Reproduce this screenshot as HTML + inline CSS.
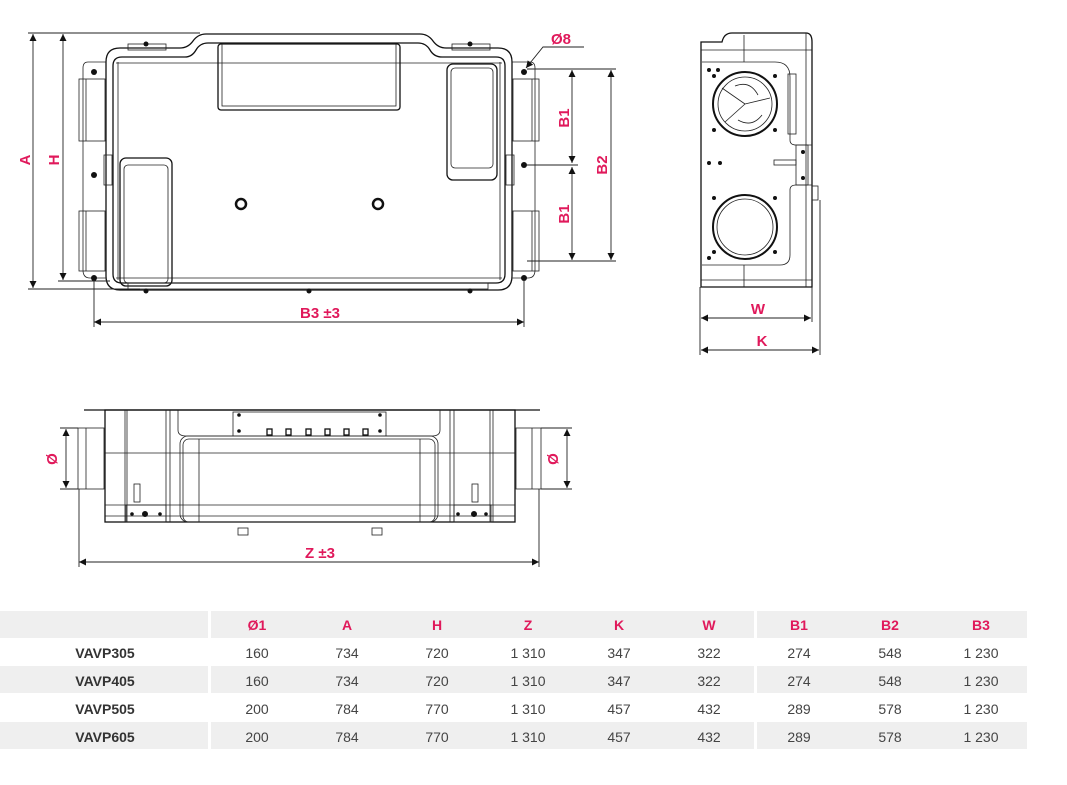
<!DOCTYPE html>
<html><head><meta charset="utf-8"><style>
body{margin:0;background:#fff;width:1067px;height:785px;overflow:hidden;font-family:"Liberation Sans",sans-serif}
svg{position:absolute;left:0;top:0}
.l{fill:none;stroke:#111;stroke-width:1.3}
.t{fill:none;stroke:#222;stroke-width:0.8}
.d{stroke:#222;stroke-width:0.9;fill:none}
.m{fill:#e0195b;font-weight:bold;font-size:15px;font-family:"Liberation Sans",sans-serif}
.h{fill:#e0195b;font-weight:bold;font-size:14px;text-anchor:middle}
.v{fill:#444;font-size:14px;text-anchor:middle}
.n{fill:#333;font-weight:bold;font-size:14px;text-anchor:middle}
</style></head><body>
<svg width="1067" height="785" viewBox="0 0 1067 785">
<defs>
<marker id="a" viewBox="0 0 10 10" refX="10" refY="5" markerWidth="10" markerHeight="7" orient="auto-start-reverse" markerUnits="userSpaceOnUse"><path d="M0,0L10,5L0,10z" fill="#111"/></marker>
</defs>
<!-- TOP VIEW -->
<path class="l" d="M106,62 Q106,48 120,48 L180,48 Q188,48 193,41 Q198,34 206,34 L420,34 Q428,34 433,41 Q438,48 446,48 L498,48 Q512,48 512,62 L512,276 Q512,290 498,290 L120,290 Q106,290 106,276Z"/>
<path class="l" d="M113,66 Q113,57 122,57 L185,57 Q192,57 196,50 Q200,43 208,43 L418,43 Q426,43 430,50 Q434,57 442,57 L496,57 Q505,57 505,66 L505,274 Q505,283 496,283 L122,283 Q113,283 113,274Z"/>
<line class="t" x1="116" y1="63" x2="502" y2="63"/>
<line class="t" x1="116" y1="278" x2="502" y2="278"/>
<line class="t" x1="118" y1="62" x2="118" y2="280"/><line class="t" x1="500" y1="62" x2="500" y2="280"/>
<rect class="l" x="218" y="44" width="182" height="66" rx="3"/>
<rect class="t" x="222" y="44" width="174" height="62"/>
<rect class="l" x="447" y="64" width="50" height="116" rx="6"/>
<rect class="t" x="451" y="68" width="42" height="100" rx="4"/>
<rect class="l" x="120" y="158" width="52" height="128" rx="6"/>
<rect class="t" x="124" y="165" width="44" height="118" rx="4"/>
<circle cx="241" cy="204" r="5" stroke="#111" stroke-width="2.5" fill="none"/>
<circle cx="378" cy="204" r="5" stroke="#111" stroke-width="2.5" fill="none"/>
<rect x="128" y="44" width="38" height="6" class="t"/><rect x="452" y="44" width="38" height="6" class="t"/>
<rect x="128" y="283" width="360" height="6" class="t"/>
<!-- left flange -->
<path class="t" d="M106,62 L88,62 Q83,62 83,68 L83,270 Q83,278 90,278 L106,278"/>
<rect class="t" x="79" y="79" width="26" height="62"/><rect class="t" x="79" y="211" width="26" height="60"/>
<line class="t" x1="86" y1="79" x2="86" y2="141"/><line class="t" x1="86" y1="211" x2="86" y2="271"/>
<path class="t" d="M512,62 L530,62 Q535,62 535,68 L535,270 Q535,278 528,278 L512,278"/>
<rect class="t" x="513" y="79" width="26" height="62"/><rect class="t" x="513" y="211" width="26" height="60"/>
<line class="t" x1="532" y1="79" x2="532" y2="141"/><line class="t" x1="532" y1="211" x2="532" y2="271"/>
<rect x="104" y="155" width="8" height="30" class="t"/><rect x="506" y="155" width="8" height="30" class="t"/>
<g fill="#111"><circle cx="94" cy="72" r="3"/><circle cx="94" cy="175" r="3"/><circle cx="94" cy="278" r="3"/><circle cx="524" cy="72" r="3"/><circle cx="524" cy="165" r="3"/><circle cx="524" cy="278" r="3"/>
<circle cx="146" cy="44" r="2.5"/><circle cx="470" cy="44" r="2.5"/><circle cx="146" cy="291" r="2.5"/><circle cx="309" cy="291" r="2.5"/><circle cx="470" cy="291" r="2.5"/></g>
<!-- dims top -->
<line class="d" x1="28" y1="33" x2="200" y2="33"/>
<line class="d" x1="28" y1="289" x2="140" y2="289"/>
<line class="d" x1="58" y1="281" x2="110" y2="281"/>
<line class="d" x1="33" y1="34" x2="33" y2="288" marker-start="url(#a)" marker-end="url(#a)"/>
<line class="d" x1="63" y1="34" x2="63" y2="280" marker-start="url(#a)" marker-end="url(#a)"/>
<text class="m" transform="translate(30,160) rotate(-90)" text-anchor="middle">A</text>
<text class="m" transform="translate(59,160) rotate(-90)" text-anchor="middle">H</text>
<line class="d" x1="94" y1="280" x2="94" y2="327"/><line class="d" x1="524" y1="280" x2="524" y2="327"/>
<line class="d" x1="94" y1="322" x2="524" y2="322" marker-start="url(#a)" marker-end="url(#a)"/>
<text class="m" x="320" y="318" text-anchor="middle">B3  ±3</text>
<line class="d" x1="527" y1="69" x2="616" y2="69"/><line class="d" x1="527" y1="165" x2="578" y2="165"/><line class="d" x1="527" y1="261" x2="616" y2="261"/>
<line class="d" x1="572" y1="70" x2="572" y2="163" marker-start="url(#a)" marker-end="url(#a)"/>
<line class="d" x1="572" y1="167" x2="572" y2="260" marker-start="url(#a)" marker-end="url(#a)"/>
<line class="d" x1="611" y1="70" x2="611" y2="260" marker-start="url(#a)" marker-end="url(#a)"/>
<text class="m" transform="translate(569,118) rotate(-90)" text-anchor="middle">B1</text>
<text class="m" transform="translate(569,214) rotate(-90)" text-anchor="middle">B1</text>
<text class="m" transform="translate(607,165) rotate(-90)" text-anchor="middle">B2</text>
<text class="m" x="551" y="44">Ø8</text>
<polyline class="d" points="584,47 543,47 526,68" marker-end="url(#a)"/>
<!-- SIDE VIEW -->
<path class="l" d="M701,42 L722,42 Q724,33 732,33 L806,33 Q812,33 812,42 L812,287 L701,287Z"/>
<path class="t" d="M702,62 L775,62 Q790,62 790,77 L790,140 Q790,145 796,145 L812,145"/>
<path class="t" d="M702,265 L780,265 Q790,265 790,255 L790,190 Q790,185 796,185 L812,185"/>
<line class="t" x1="744" y1="35" x2="744" y2="62"/><line class="t" x1="744" y1="265" x2="744" y2="287"/>
<line class="t" x1="701" y1="280" x2="812" y2="280"/><line class="t" x1="701" y1="50" x2="812" y2="50"/>
<line class="t" x1="806" y1="33" x2="806" y2="287"/>
<rect class="t" x="788" y="74" width="8" height="60"/>
<rect class="t" x="796" y="145" width="12" height="40"/>
<rect x="812" y="186" width="6" height="14" class="t"/>
<circle cx="745" cy="104" r="32" stroke="#111" stroke-width="2" fill="none"/>
<circle cx="745" cy="104" r="27" class="t"/>
<path class="t" d="M745,104 L722,88 M745,104 L725,122 M745,104 L770,98 M735,86 Q750,80 758,95 M738,120 Q752,128 762,115"/>
<circle cx="745" cy="227" r="32" stroke="#111" stroke-width="2" fill="none"/>
<circle cx="745" cy="227" r="28" class="t"/>
<g fill="#111"><circle cx="709" cy="70" r="2"/><circle cx="718" cy="70" r="2"/><circle cx="714" cy="76" r="2"/><circle cx="775" cy="76" r="2"/><circle cx="714" cy="130" r="2"/><circle cx="775" cy="130" r="2"/><circle cx="709" cy="163" r="2"/><circle cx="720" cy="163" r="2"/><circle cx="714" cy="198" r="2"/><circle cx="775" cy="198" r="2"/><circle cx="714" cy="252" r="2"/><circle cx="709" cy="258" r="2"/><circle cx="775" cy="252" r="2"/><circle cx="803" cy="152" r="2"/><circle cx="803" cy="178" r="2"/></g>
<rect x="774" y="160" width="22" height="5" class="t"/>
<line class="d" x1="700" y1="287" x2="700" y2="355"/><line class="d" x1="812" y1="287" x2="812" y2="322"/><line class="d" x1="820" y1="200" x2="820" y2="355"/>
<line class="d" x1="701" y1="318" x2="811" y2="318" marker-start="url(#a)" marker-end="url(#a)"/>
<line class="d" x1="701" y1="350" x2="819" y2="350" marker-start="url(#a)" marker-end="url(#a)"/>
<text class="m" x="758" y="314" text-anchor="middle">W</text>
<text class="m" x="762" y="346" text-anchor="middle">K</text>
<!-- BOTTOM VIEW -->
<line class="l" x1="84" y1="410" x2="540" y2="410"/>
<rect class="l" x="105" y="410" width="410" height="112"/>
<g class="t">
<line x1="125" y1="410" x2="125" y2="522"/><line x1="127" y1="410" x2="127" y2="522"/>
<line x1="166" y1="410" x2="166" y2="522"/><line x1="170" y1="410" x2="170" y2="522"/>
<line x1="450" y1="410" x2="450" y2="522"/><line x1="454" y1="410" x2="454" y2="522"/>
<line x1="490" y1="410" x2="490" y2="522"/><line x1="493" y1="410" x2="493" y2="522"/>
<line x1="105" y1="453" x2="515" y2="453"/>
<line x1="105" y1="505" x2="515" y2="505"/>
<line x1="105" y1="516" x2="515" y2="516"/>
<path d="M178,410 L178,430 Q178,436 186,436 L233,436"/>
<path d="M440,410 L440,430 Q440,436 432,436 L386,436"/>
<rect x="180" y="436" width="258" height="86" rx="8"/>
<rect x="183" y="439" width="252" height="83" rx="6"/>
<line x1="199" y1="439" x2="199" y2="522"/><line x1="420" y1="439" x2="420" y2="522"/>
<rect x="126" y="505" width="40" height="17"/><rect x="454" y="505" width="37" height="17"/>
<rect x="134" y="484" width="6" height="18"/><rect x="472" y="484" width="6" height="18"/>
<rect x="233" y="412" width="153" height="24"/>
<rect x="238" y="528" width="10" height="7"/><rect x="372" y="528" width="10" height="7"/>
</g>
<g fill="none" stroke="#111" stroke-width="1.3"><rect x="267" y="429" width="5" height="6"/><rect x="286" y="429" width="5" height="6"/><rect x="306" y="429" width="5" height="6"/><rect x="325" y="429" width="5" height="6"/><rect x="344" y="429" width="5" height="6"/><rect x="363" y="429" width="5" height="6"/></g>
<g fill="#111"><circle cx="239" cy="415" r="1.8"/><circle cx="380" cy="415" r="1.8"/><circle cx="239" cy="431" r="1.8"/><circle cx="380" cy="431" r="1.8"/><circle cx="132" cy="514" r="1.8"/><circle cx="160" cy="514" r="1.8"/><circle cx="458" cy="514" r="1.8"/><circle cx="486" cy="514" r="1.8"/><circle cx="145" cy="514" r="3"/><circle cx="474" cy="514" r="3"/></g>
<rect class="t" x="78" y="428" width="26" height="61"/><line class="t" x1="86" y1="428" x2="86" y2="489"/>
<rect class="t" x="516" y="428" width="25" height="61"/><line class="t" x1="532" y1="428" x2="532" y2="489"/>
<line class="d" x1="60" y1="428" x2="78" y2="428"/><line class="d" x1="60" y1="489" x2="78" y2="489"/>
<line class="d" x1="66" y1="429" x2="66" y2="488" marker-start="url(#a)" marker-end="url(#a)"/>
<line class="d" x1="541" y1="428" x2="572" y2="428"/><line class="d" x1="541" y1="489" x2="572" y2="489"/>
<line class="d" x1="567" y1="429" x2="567" y2="488" marker-start="url(#a)" marker-end="url(#a)"/>
<text class="m" transform="translate(57,459) rotate(-90)" text-anchor="middle">Ø</text>
<text class="m" transform="translate(558,459) rotate(-90)" text-anchor="middle">Ø</text>
<line class="d" x1="79" y1="489" x2="79" y2="567"/><line class="d" x1="539" y1="489" x2="539" y2="567"/>
<line class="d" x1="79" y1="562" x2="539" y2="562" marker-start="url(#a)" marker-end="url(#a)"/>
<text class="m" x="320" y="558" text-anchor="middle">Z   ±3</text>
<!-- TABLE -->
<g fill="#efefef">
<rect x="0" y="611" width="208" height="27"/><rect x="211" y="611" width="543" height="27"/><rect x="757" y="611" width="270" height="27"/>
<rect x="0" y="666" width="208" height="27"/><rect x="211" y="666" width="543" height="27"/><rect x="757" y="666" width="270" height="27"/>
<rect x="0" y="722" width="208" height="27"/><rect x="211" y="722" width="543" height="27"/><rect x="757" y="722" width="270" height="27"/>
</g>
<g class="h"><text x="257" y="630">Ø1</text><text x="347" y="630">A</text><text x="437" y="630">H</text><text x="528" y="630">Z</text><text x="619" y="630">K</text><text x="709" y="630">W</text><text x="799" y="630">B1</text><text x="890" y="630">B2</text><text x="981" y="630">B3</text></g>
<g class="n"><text x="105" y="658">VAVP305</text><text x="105" y="686">VAVP405</text><text x="105" y="714">VAVP505</text><text x="105" y="742">VAVP605</text></g>
<g class="v">
<text x="257" y="658">160</text><text x="347" y="658">734</text><text x="437" y="658">720</text><text x="528" y="658">1 310</text><text x="619" y="658">347</text><text x="709" y="658">322</text><text x="799" y="658">274</text><text x="890" y="658">548</text><text x="981" y="658">1 230</text>
<text x="257" y="686">160</text><text x="347" y="686">734</text><text x="437" y="686">720</text><text x="528" y="686">1 310</text><text x="619" y="686">347</text><text x="709" y="686">322</text><text x="799" y="686">274</text><text x="890" y="686">548</text><text x="981" y="686">1 230</text>
<text x="257" y="714">200</text><text x="347" y="714">784</text><text x="437" y="714">770</text><text x="528" y="714">1 310</text><text x="619" y="714">457</text><text x="709" y="714">432</text><text x="799" y="714">289</text><text x="890" y="714">578</text><text x="981" y="714">1 230</text>
<text x="257" y="742">200</text><text x="347" y="742">784</text><text x="437" y="742">770</text><text x="528" y="742">1 310</text><text x="619" y="742">457</text><text x="709" y="742">432</text><text x="799" y="742">289</text><text x="890" y="742">578</text><text x="981" y="742">1 230</text>
</g>
</svg>
</body></html>
